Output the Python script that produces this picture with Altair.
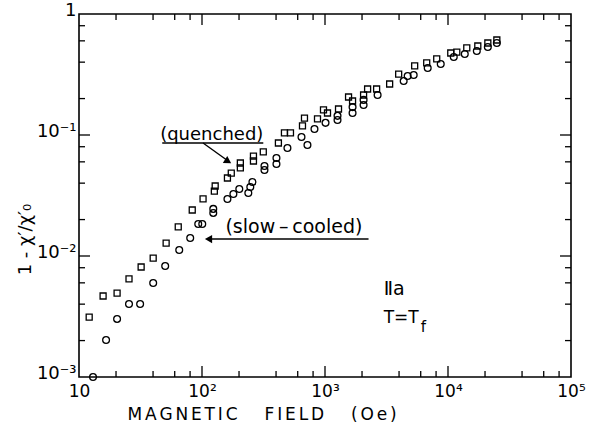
import altair as alt
import pandas as pd

# 1 - chi'/chi'_0 versus applied field, sample IIa at T = Tf
q_field = [12.1, 15.7, 20.4, 25.5, 32.0, 40.1, 51.1, 64.1, 83.3, 102,
           126, 128, 161, 173, 205, 205, 262, 262, 315, 418,
           468, 524, 656, 681, 869, 972, 1048, 1288, 1554, 1675,
           2059, 2220, 2628, 3354, 3971, 5359, 6712, 8097, 10530, 11790,
           14210, 17470, 21080, 24950]
q_resp = [3.13e-3, 4.67e-3, 4.94e-3, 6.46e-3, 8.11e-3, 9.62e-3, 1.28e-2, 1.74e-2, 2.40e-2, 2.96e-2,
          3.44e-2, 3.79e-2, 4.41e-2, 4.85e-2, 5.34e-2, 5.87e-2, 6.10e-2, 6.70e-2, 7.24e-2, 8.59e-2,
          0.104, 0.104, 0.119, 0.138, 0.136, 0.161, 0.152, 0.164, 0.206, 0.191,
          0.214, 0.240, 0.240, 0.264, 0.319, 0.372, 0.394, 0.425, 0.476, 0.485,
          0.524, 0.544, 0.576, 0.610]

s_field = [13.0, 16.6, 20.4, 25.5, 31.4, 40.1, 50.2, 65.3, 80.2, 93.2,
           100.5, 123.5, 123.5, 161, 180, 201, 238, 247, 257, 322,
           322, 403, 403, 495, 644, 720, 821, 1010, 1264, 1264,
           1675, 1675, 2059, 2059, 2677, 4361, 4699, 5260, 6839, 8729,
           11140, 13690, 17150, 21080, 24950]
s_resp = [1.0e-3, 2.02e-3, 3.02e-3, 4.01e-3, 4.01e-3, 5.98e-3, 8.27e-3, 1.12e-2, 1.41e-2, 1.84e-2,
          1.84e-2, 2.27e-2, 2.45e-2, 2.96e-2, 3.25e-2, 3.58e-2, 3.32e-2, 3.72e-2, 4.09e-2, 5.14e-2,
          5.54e-2, 5.76e-2, 6.45e-2, 7.81e-2, 9.62e-2, 8.27e-2, 0.112, 0.126, 0.133, 0.144,
          0.152, 0.170, 0.177, 0.195, 0.214, 0.279, 0.307, 0.313, 0.358, 0.386,
          0.441, 0.467, 0.495, 0.534, 0.576]

x_tick_values = [10, 100, 1000, 10000, 100000]
x_tick_labels = ["10", "10²", "10³", "10⁴", "10⁵"]
y_tick_values = [0.001, 0.01, 0.1, 1]
y_tick_labels = ["10⁻³", "10⁻²", "10⁻¹", "1"]

# minor ticks at 2, 4, 6, 8 of each decade
x_minor = [m * d for d in [10, 100, 1000, 10000] for m in [2, 4, 6, 8]]
x_major = [100, 1000, 10000]
y_minor = [m * d for d in [0.001, 0.01, 0.1] for m in [2, 4, 6, 8]]
y_major = [0.01, 0.1]

W, H = 492, 363
FONT = "DejaVu Sans"
NB = "\u00a0"
LS = "\u2006"  # narrow gap between letters of the axis title


def spaced(word):
    return LS.join(word)


x_title = (NB * 5).join(spaced(w) for w in ["MAGNETIC", "FIELD", "(Oe)"])

x_scale = alt.Scale(type="log", domain=[10, 100000], nice=False)
y_scale = alt.Scale(type="log", domain=[0.001, 1], nice=False)


def label_expr(labels, first_exp):
    arr = "[" + ",".join("'" + s + "'" for s in labels) + "]"
    return f"{arr}[round(log(datum.value)/LN10) - ({first_exp})]"


X_AXIS = alt.Axis(
    values=x_tick_values, labelExpr=label_expr(x_tick_labels, 1),
    labelFlush=False, labelOverlap=False, labelPadding=6, labelFontSize=17,
    title=x_title, titleX=48, titleY=42, titleFontSize=17,
    titleAlign="left", titleBaseline="alphabetic")
Y_AXIS = alt.Axis(
    values=y_tick_values, labelExpr=label_expr(y_tick_labels, -3),
    labelFlush=False, labelOverlap=False, labelPadding=3, labelOffset=-4, labelFontSize=18,
    title="1 - χ′/χ′₀", titleX=-54, titleY=225, titleAngle=270, titleFontSize=18,
    titleAlign="center", titleBaseline="middle")

points = pd.DataFrame({
    "field": q_field + s_field,
    "resp": q_resp + s_resp,
    "sample": ["quenched"] * len(q_field) + ["slow-cooled"] * len(s_field),
})

pts = alt.Chart(points).mark_point(filled=False, color="black", strokeWidth=1.3, opacity=1).encode(
    x=alt.X("field:Q", scale=x_scale, axis=X_AXIS),
    y=alt.Y("resp:Q", scale=y_scale, axis=Y_AXIS),
    shape=alt.Shape("sample:N", scale=alt.Scale(domain=["quenched", "slow-cooled"],
                                                range=["square", "circle"]), legend=None),
    size=alt.Size("sample:N", scale=alt.Scale(domain=["quenched", "slow-cooled"],
                                              range=[36, 46]), legend=None),
)

XF = alt.X("field:Q", scale=x_scale, axis=X_AXIS)
YF = alt.Y("resp:Q", scale=y_scale, axis=Y_AXIS)


def x_ticks(vals, length):
    df = pd.DataFrame({"field": vals})
    b = alt.Chart(df).mark_rule(color="black", strokeWidth=1.3)
    bottom = b.encode(x=XF, y=alt.value(H), y2=alt.value(H - length))
    top = b.encode(x=XF, y=alt.value(0), y2=alt.value(length))
    return [bottom, top]


def y_ticks(vals, length):
    df = pd.DataFrame({"resp": vals})
    b = alt.Chart(df).mark_rule(color="black", strokeWidth=1.3)
    left = b.encode(y=YF, x=alt.value(0), x2=alt.value(length))
    right = b.encode(y=YF, x=alt.value(W), x2=alt.value(W - length))
    return [left, right]


tick_layers = x_ticks(x_minor, 6) + x_ticks(x_major, 11) + y_ticks(y_minor, 6) + y_ticks(y_major, 11)

# annotation text
notes = pd.DataFrame({
    "field": [45.7, 155, 3000, 3000],
    "resp": [0.091, 0.0155, 4.76e-3, 2.79e-3],
    "text": ["(quenched)", "(slow\u2009–\u2009cooled)", "Ⅱa", "T=T"],
    "size": [18, 19, 19, 17],
})
note_text = alt.Chart(notes).mark_text(align="left", baseline="alphabetic", font=FONT,
                                       color="black").encode(
    x=XF, y=YF,
    text="text:N",
    size=alt.Size("size:Q", scale=None, legend=None),
)
sub = pd.DataFrame({"field": [5998], "resp": [2.35e-3], "text": ["f"]})
sub_text = alt.Chart(sub).mark_text(align="left", baseline="alphabetic", font=FONT, fontSize=15,
                                    color="black").encode(x=XF, y=YF, text="text:N")

# underline and arrow shafts
segs = pd.DataFrame({
    "field": [47.5, 102, 2259],
    "field2": [315, 161, 112],
    "resp": [0.0859, 0.0859, 0.0138],
    "resp2": [0.0859, 0.0615, 0.0138],
})
seg_rules = alt.Chart(segs).mark_rule(color="black", strokeWidth=1.4).encode(
    x=XF, x2="field2:Q", y=YF, y2="resp2:Q",
)

heads = pd.DataFrame({
    "field": [163, 113],
    "resp": [0.0605, 0.0138],
    "ang": [32, 180],
})
head_marks = alt.Chart(heads).mark_point(shape="triangle-right", filled=True, color="black",
                                         size=70, opacity=1).encode(
    x=XF, y=YF,
    angle=alt.Angle("ang:Q", scale=None),
)

chart = alt.layer(pts, *tick_layers, seg_rules, head_marks, note_text, sub_text).properties(
    width=W, height=H,
    autosize=alt.AutoSizeParams(type="none"),
    padding={"left": 79, "top": 14, "right": 25, "bottom": 53},
).configure_view(
    stroke="black", strokeWidth=1.6
).configure_axis(
    domain=False, ticks=False, grid=False,
    labelFont=FONT, labelColor="black",
    titleFont=FONT, titleFontWeight="normal", titleColor="black",
)

chart.save("out.html", embed_options={"renderer": "svg", "actions": False})
